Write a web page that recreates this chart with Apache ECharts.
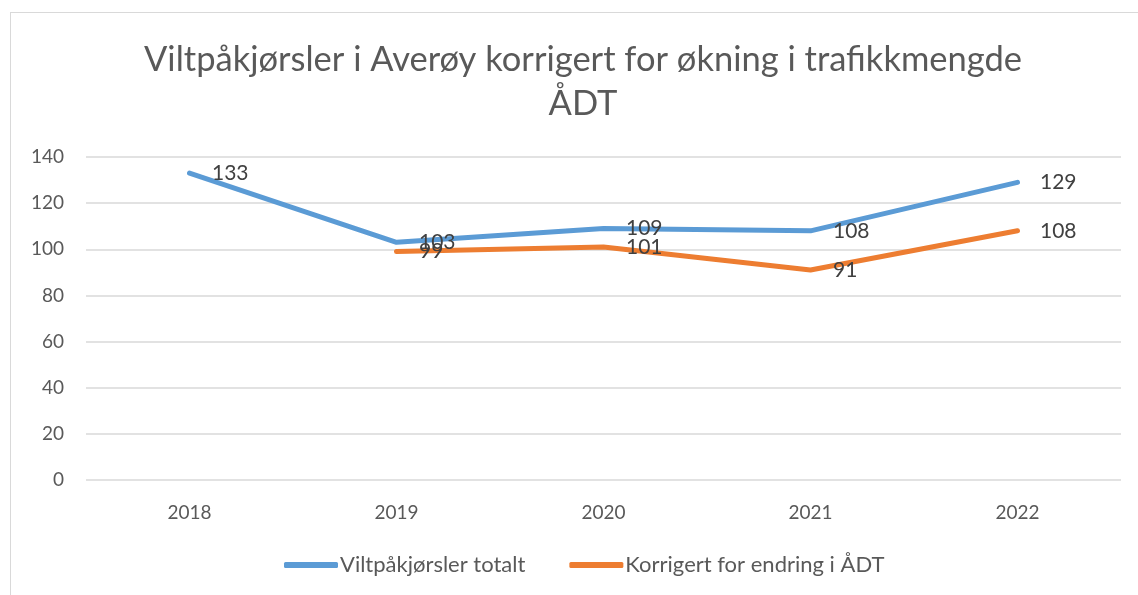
<!DOCTYPE html>
<html>
<head>
<meta charset="utf-8">
<script src="https://cdn.jsdelivr.net/npm/echarts@6/dist/echarts.min.js"></script>
<style>
    html, body { margin: 0; padding: 0; background: #fff; }
    #frame { position: absolute; left: 10px; top: 12px; width: 1140px; height: 600px; border: 1px solid #d9d9d9; }
    #chart { position: absolute; left: 0; top: 0; width: 1138px; height: 595px; }
</style>
</head>
<body>
<div id="frame"></div>
<div id="chart"></div>
<script>
var years = ['2018', '2019', '2020', '2021', '2022'];
var totalt = [133, 103, 109, 108, 129];
var korrigert = [null, 99, 101, 91, 108];
var seriesNames = ['Viltpåkjørsler totalt', 'Korrigert for endring i ÅDT'];
var yTicks = [0, 20, 40, 60, 80, 100, 120, 140];

var font = 'Lato';
var chart = echarts.init(document.getElementById('chart'));

function lineSeries(name, data, color) {
    return {
        name: name,
        type: 'line',
        data: data,
        symbol: 'circle',
        symbolSize: 1,
        itemStyle: { color: color },
        lineStyle: { width: 5, color: color, cap: 'round', join: 'round' },
        label: {
            show: true,
            position: 'right',
            distance: 22,
            fontFamily: font,
            fontSize: 21,
            color: '#404040'
        },
        emphasis: { disabled: true },
        animation: false
    };
}

var option = {
    backgroundColor: 'transparent',
    title: {
        text: 'Viltpåkjørsler i Averøy korrigert for økning i trafikkmengde\nÅDT',
        left: 578,
        top: 33,
        textAlign: 'center',
        textStyle: {
            fontFamily: font,
            fontWeight: 'normal',
            fontSize: 34.5,
            lineHeight: 44,
            color: '#595959'
        }
    },
    grid: { left: 86, right: 17, top: 157, bottom: 115 },
    legend: {
        bottom: 14,
        left: 279,
        itemWidth: 54,
        itemHeight: 6,
        itemGap: 44,
        icon: 'roundRect',
        textStyle: { fontFamily: font, fontSize: 22, color: '#595959', padding: [0, 0, 0, -3] },
        data: seriesNames
    },
    xAxis: {
        type: 'category',
        data: years,
        boundaryGap: true,
        axisLine: { show: false },
        axisTick: { show: false },
        axisLabel: { fontFamily: font, fontSize: 19, color: '#595959', margin: 23 }
    },
    yAxis: {
        type: 'value',
        min: yTicks[0],
        max: yTicks[yTicks.length - 1],
        interval: 20,
        axisLine: { show: false },
        axisTick: { show: false },
        axisLabel: { fontFamily: font, fontSize: 19, color: '#595959', margin: 22 },
        splitLine: { lineStyle: { color: '#d9d9d9', width: 1.5 } }
    },
    series: [
        lineSeries(seriesNames[0], totalt, '#5b9bd5'),
        lineSeries(seriesNames[1], korrigert, '#ed7d31')
    ]
};
chart.setOption(option);
</script>
</body>
</html>
